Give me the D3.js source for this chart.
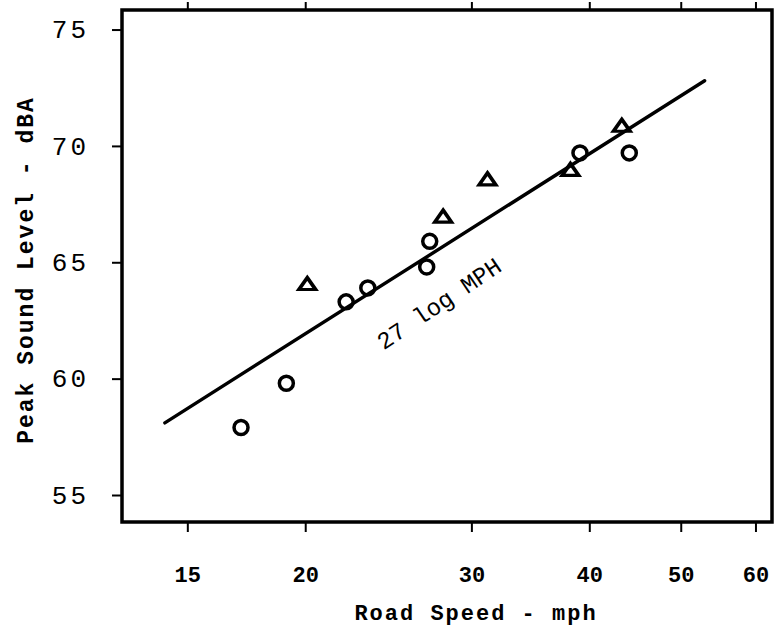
<!DOCTYPE html>
<html><head><meta charset="utf-8">
<script src="https://cdn.jsdelivr.net/npm/d3@7"></script>
<style>html,body{margin:0;padding:0;background:#fff}svg{display:block}</style>
</head><body>
<script>
const xTicks = [15, 20, 30, 40, 50, 60];
const yTicks = [55, 60, 65, 70, 75];
const circleX = [17.1, 19.1, 22.1, 23.3, 26.9, 27.1, 39.1, 44.1];
const circleY = [57.9, 59.8, 63.3, 63.9, 64.8, 65.9, 69.7, 69.7];
const triX = [20.1, 28.0, 31.2, 38.2, 43.3];
const triY = [64.0, 66.9, 68.5, 68.9, 70.8];
const fitX = [14.2, 53.0];
const fitY = [58.1, 72.8];
const fitLabel = "27 log MPH";
const xTitle = "Road Speed - mph";
const yTitle = "Peak Sound Level - dBA";

const W = 776, H = 633;
const L = 122, R = 772, T = 10, B = 522;
const font = "'Liberation Mono', 'DejaVu Sans Mono', monospace";

const svg = d3.select("body").append("svg").attr("width", W).attr("height", H);
const x = d3.scaleLog().domain([12.79, 62.47]).range([L, R]);
const y = d3.scaleLinear().domain([53.84, 75.84]).range([B, T]);

// frame
svg.append("rect").attr("x", L).attr("y", T).attr("width", R - L).attr("height", B - T)
  .attr("fill", "none").attr("stroke", "#000").attr("stroke-width", 3.5);

// bottom axis
const xb = svg.append("g").attr("transform", `translate(0,${B})`)
  .call(d3.axisBottom(x).tickValues(xTicks).tickFormat(d3.format("d")).tickSize(10).tickPadding(34));
// top axis (ticks only)
const xt = svg.append("g").attr("transform", `translate(0,${T})`)
  .call(d3.axisTop(x).tickValues(xTicks).tickFormat("").tickSize(8));
// left axis
const yl = svg.append("g").attr("transform", `translate(${L},0)`)
  .call(d3.axisLeft(y).tickValues(yTicks).tickSize(10).tickPadding(23));
[xb, xt, yl].forEach(g => {
  g.select(".domain").remove();
  g.selectAll("line").attr("stroke", "#000").attr("stroke-width", 2);
});
xb.selectAll("text").attr("font-family", font).attr("font-size", 22).attr("font-weight", "bold")
  .attr("fill", "#000");
yl.selectAll("text").attr("font-family", font).attr("font-size", 26).attr("fill", "#000")
  .attr("letter-spacing", 3);

// fit line
svg.append("line")
  .attr("x1", x(fitX[0])).attr("y1", y(fitY[0]))
  .attr("x2", x(fitX[1])).attr("y2", y(fitY[1]))
  .attr("stroke", "#000").attr("stroke-width", 3.4).attr("stroke-linecap", "round");

// circles
svg.append("g").selectAll("circle").data(circleX).join("circle")
  .attr("cx", d => x(d)).attr("cy", (d, i) => y(circleY[i])).attr("r", 7)
  .attr("fill", "none").attr("stroke", "#000").attr("stroke-width", 3.5);

// triangles
const tri = d3.symbol().type(d3.symbolTriangle).size(90);
svg.append("g").selectAll("path").data(triX).join("path")
  .attr("d", tri)
  .attr("transform", (d, i) => `translate(${x(d)},${y(triY[i])}) scale(1.15,0.95)`)
  .attr("fill", "none").attr("stroke", "#000").attr("stroke-width", 3.4).attr("stroke-linejoin", "miter");

// fit label
svg.append("text").attr("x", 0).attr("y", 0)
  .attr("transform", `translate(440,305) rotate(-34)`)
  .attr("text-anchor", "middle").attr("dominant-baseline", "middle")
  .attr("font-family", font).attr("font-size", 24).attr("fill", "#000")
  .text(fitLabel);

// axis titles
svg.append("text").attr("x", 476).attr("y", 620)
  .attr("text-anchor", "middle").attr("font-family", font).attr("font-size", 22)
  .attr("font-weight", "bold").attr("letter-spacing", 2).attr("fill", "#000").text(xTitle);
svg.append("text").attr("transform", `translate(33,${270}) rotate(-90)`)
  .attr("text-anchor", "middle").attr("font-family", font).attr("font-size", 23)
  .attr("font-weight", "bold").attr("letter-spacing", 2).attr("fill", "#000").text(yTitle);
</script>
</body></html>
